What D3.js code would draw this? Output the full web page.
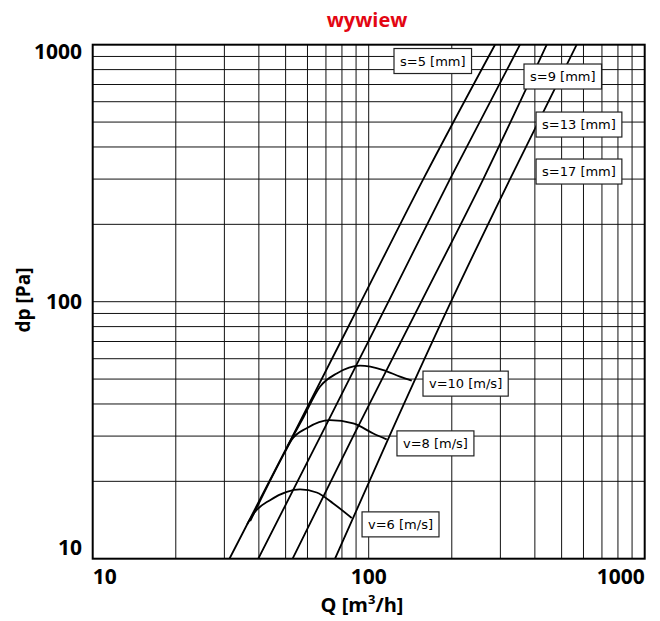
<!DOCTYPE html>
<html>
<head>
<meta charset="utf-8">
<script src="https://cdn.jsdelivr.net/npm/d3@7"></script>
<style>
  html, body { margin: 0; padding: 0; background: #fff; }
  svg { display: block; }
</style>
</head>
<body>
<svg id="chart" width="660" height="621"></svg>
<script>
// ---------- data ----------
const titleText = "wywiew";
const xTickValues = [10, 100, 1000];
const yTickValues = [10, 100, 1000];

// s-lines: Q [m3/h] at each pressure level dp [Pa]
const sDpLevels = [10, 30, 100, 300, 1000];
const s5Q  = [31.3, 53.0, 93.8, 157.7, 286.8];
const s9Q  = [39.8, 66.9, 117.9, 197.0, 353.3];
const s13Q = [53.0, 87.9, 155.1, 260.1, 441.6];
const s17Q = [75.5, 118.9, 198.7, 325.1, 567.0];

// v-curves
const v6Q   = [36.3, 38.7, 43.9, 50.5, 56.4, 64.8, 74.4, 86.8];
const v6dp  = [13.65, 15.2, 16.9, 18.2, 18.6, 18.1, 16.4, 14.4];
const v8Q   = [37.2, 50.4, 52.6, 59.6, 72.4, 87.9, 103.9, 116.2];
const v8dp  = [14.0, 26.7, 29.0, 32.2, 34.6, 33.6, 30.7, 29.1];
const v10Q  = [50.8, 58.1, 66.6, 76.6, 93.0, 113.0, 129.8, 143.2];
const v10dp = [27.4, 35.6, 46.7, 52.6, 56.4, 54.2, 51.1, 49.3];

const seriesNames = ["s=5 [mm]", "s=9 [mm]", "s=13 [mm]", "s=17 [mm]", "v=10 [m/s]", "v=8 [m/s]", "v=6 [m/s]"];
// label anchors (box left edge Q, box vertical centre dp)
const labelQ  = [123.5, 365.3, 404, 404, 157.3, 126.6, 94.6];
const labelDp = [864, 752, 489, 321, 48.0, 28.1, 13.6];

// ---------- layout ----------
const mLeft = 92.7, mRight = 644.7, mTop = 44.7, mBottom = 558.7;
const FONT = "'Open Sans', 'Noto Sans', sans-serif";
const LABEL_FONT = "'DejaVu Sans', sans-serif";

const svg = d3.select("#chart");
const x = d3.scaleLog().domain([10, 1000]).range([mLeft, mRight]);
const y = d3.scaleLog().domain([10, 1000]).range([mBottom, mTop]);

// grid
const gridVals = [];
[10, 100].forEach(d => { for (let k = 1; k <= 10; k++) gridVals.push(d * k); });
const uniq = Array.from(new Set(gridVals)).filter(v => v > 10 && v < 1000);

const grid = svg.append("g");
grid.selectAll("line.v").data(uniq).join("line")
  .attr("x1", d => x(d)).attr("x2", d => x(d))
  .attr("y1", mTop).attr("y2", mBottom)
  .attr("stroke", "#111").attr("stroke-width", 1);
grid.selectAll("line.h").data(uniq).join("line")
  .attr("y1", d => y(d)).attr("y2", d => y(d))
  .attr("x1", mLeft).attr("x2", mRight)
  .attr("stroke", "#111").attr("stroke-width", 1);

// frame
svg.append("rect")
  .attr("x", mLeft).attr("y", mTop)
  .attr("width", mRight - mLeft).attr("height", mBottom - mTop)
  .attr("fill", "none").attr("stroke", "#000").attr("stroke-width", 2);

// clip
svg.append("clipPath").attr("id", "plotclip")
  .append("rect").attr("x", mLeft).attr("y", mTop)
  .attr("width", mRight - mLeft).attr("height", mBottom - mTop);

const plot = svg.append("g").attr("clip-path", "url(#plotclip)");

const sLines = [s5Q, s9Q, s13Q, s17Q].map(qs => qs.map((q, i) => [q, sDpLevels[i]]));
const vCurves = [[v6Q, v6dp], [v8Q, v8dp], [v10Q, v10dp]].map(([qs, ds]) => qs.map((q, i) => [q, ds[i]]));

const lineS = d3.line().x(d => x(d[0])).y(d => y(d[1])).curve(d3.curveMonotoneX);
const lineV = d3.line().x(d => x(d[0])).y(d => y(d[1])).curve(d3.curveMonotoneX);

plot.selectAll("path.s").data(sLines).join("path")
  .attr("d", lineS).attr("fill", "none")
  .attr("stroke", "#000").attr("stroke-width", 1.8);
plot.selectAll("path.v").data(vCurves).join("path")
  .attr("d", lineV).attr("fill", "none")
  .attr("stroke", "#000").attr("stroke-width", 1.8);

// labels
const lab = svg.append("g");
seriesNames.forEach((name, i) => {
  const g = lab.append("g");
  const lx = x(labelQ[i]), ly = y(labelDp[i]);
  const rect = g.append("rect");
  const t = g.append("text")
    .attr("x", lx + 6).attr("y", ly).attr("dy", "0.36em")
    .attr("font-family", LABEL_FONT).attr("font-size", 13)
    .attr("fill", "#000").text(name);
  const w = t.node().getComputedTextLength();
  rect.attr("x", lx).attr("y", ly - 12.5)
    .attr("width", w + 12).attr("height", 25)
    .attr("fill", "#fff").attr("stroke", "#222").attr("stroke-width", 1.2);
});

// title
svg.append("text")
  .attr("x", 367).attr("y", 27)
  .attr("text-anchor", "middle")
  .attr("font-family", FONT).attr("font-weight", "bold")
  .attr("font-size", 20).attr("fill", "#e30613")
  .text(titleText);

// x tick labels
svg.selectAll("text.xt").data(xTickValues).join("text")
  .attr("x", d => x(d)).attr("y", 584)
  .attr("text-anchor", (d, i) => i === 0 ? "start" : (i === xTickValues.length - 1 ? "end" : "middle"))
  .attr("font-family", FONT).attr("font-weight", "bold").attr("font-size", 21)
  .attr("fill", "#000").text(d => d);

// y tick labels
svg.selectAll("text.yt").data(yTickValues).join("text")
  .attr("x", 82)
  .attr("y", (d, i) => i === 0 ? mBottom - 4 : (i === yTickValues.length - 1 ? mTop + 14 : y(d) + 7))
  .attr("text-anchor", "end")
  .attr("font-family", FONT).attr("font-weight", "bold").attr("font-size", 21)
  .attr("fill", "#000").text(d => d);

// axis titles
const xt = svg.append("text")
  .attr("x", 362).attr("y", 612)
  .attr("text-anchor", "middle")
  .attr("font-family", FONT).attr("font-weight", "bold").attr("font-size", 20)
  .attr("fill", "#000");
xt.append("tspan").text("Q [m");
xt.append("tspan").attr("font-size", 13).attr("dy", -8).text("3");
xt.append("tspan").attr("dy", 8).text("/h]");

svg.append("text")
  .attr("transform", "translate(30,300) rotate(-90)")
  .attr("text-anchor", "middle")
  .attr("font-family", FONT).attr("font-weight", "bold").attr("font-size", 19)
  .attr("fill", "#000").text("dp [Pa]");
</script>
</body>
</html>
